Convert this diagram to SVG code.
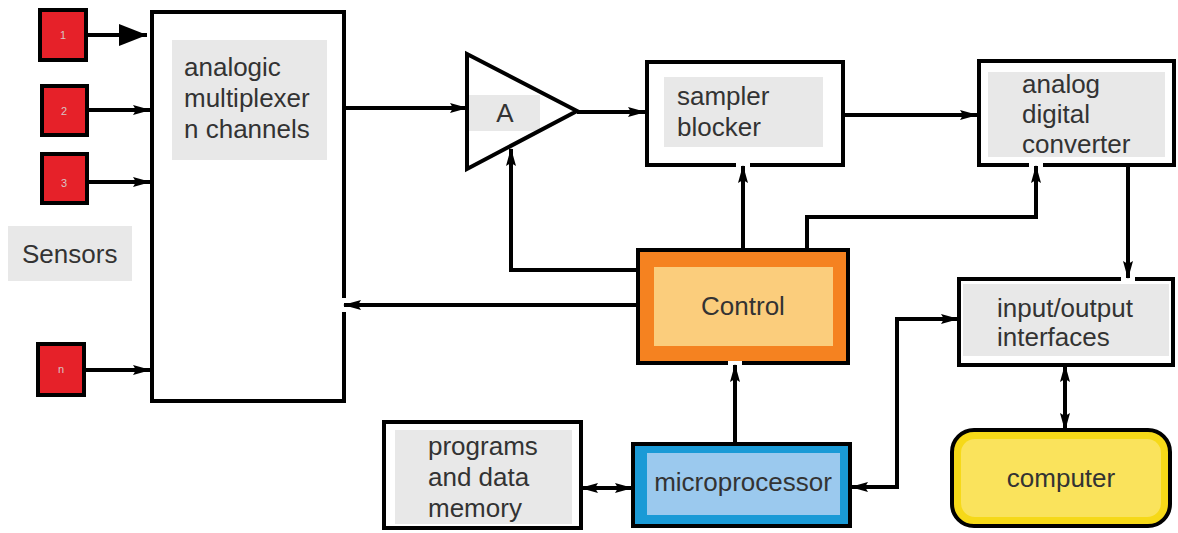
<svg xmlns="http://www.w3.org/2000/svg" width="1178" height="533" viewBox="0 0 1178 533">
<defs>
<style>
.box{fill:#fff;stroke:#000;stroke-width:4}
.gray{fill:#e8e8e8}
.sensor{fill:#e62129;stroke:#000;stroke-width:4}
.num{font-family:"Liberation Sans",Arial,sans-serif;font-size:11px;fill:#d6c4c4;text-anchor:middle}
.t{font-family:"Liberation Sans",Arial,sans-serif;font-size:26px;fill:#333}
.c{text-anchor:middle}
.ln{fill:none;stroke:#000;stroke-width:4}
.gap{fill:#fff}
</style>
<marker id="ah" viewBox="0 0 18 12" refX="17" refY="6" markerWidth="18" markerHeight="12" markerUnits="userSpaceOnUse" orient="auto">
<path d="M0,1 L18,6 L0,11 L3,6 z" fill="#000"/>
</marker>
<marker id="ahs" viewBox="0 0 18 12" refX="1" refY="6" markerWidth="18" markerHeight="12" markerUnits="userSpaceOnUse" orient="auto">
<path d="M18,1 L0,6 L18,11 L15,6 z" fill="#000"/>
</marker>
<marker id="big" viewBox="0 0 28 22" refX="28" refY="11" markerWidth="28" markerHeight="22" markerUnits="userSpaceOnUse" orient="auto">
<path d="M0,0 L28,11 L0,22 z" fill="#000"/>
</marker>
</defs>
<rect width="1178" height="533" fill="#fff"/>

<g id="sensor1"><rect class="sensor" x="40" y="10" width="46" height="50"/><text class="num" x="63" y="39">1</text></g>
<g id="sensor2"><rect class="sensor" x="42" y="86" width="45" height="49"/><text class="num" x="64" y="115">2</text></g>
<g id="sensor3"><rect class="sensor" x="42" y="154" width="45" height="49"/><text class="num" x="64" y="187">3</text></g>
<g id="sensorn"><rect class="sensor" x="38" y="344" width="46" height="51"/><text class="num" x="61" y="373">n</text></g>
<g id="sensors-label"><rect class="gray" x="8" y="226" width="124" height="55"/><text class="t" x="22" y="263">Sensors</text></g>

<g id="multiplexer">
<rect class="box" x="152" y="12" width="192" height="389"/>
<rect class="gray" x="172" y="40" width="155" height="120"/>
<text class="t" x="184" y="76">analogic</text>
<text class="t" x="184" y="107">multiplexer</text>
<text class="t" x="184" y="138">n channels</text>
<rect class="gap" x="341" y="298" width="6" height="14"/>
</g>

<g id="amplifier">
<rect class="gray" x="468" y="95" width="72" height="36"/>
<path d="M467,54 L577,111 L467,169 Z" fill="none" stroke="#000" stroke-width="4" stroke-linejoin="miter"/>
<text class="t c" x="505" y="122">A</text>
</g>

<g id="sampler">
<rect class="box" x="647" y="62" width="196" height="103"/>
<rect class="gray" x="664" y="77" width="159" height="70"/>
<text class="t" x="677" y="105">sampler</text>
<text class="t" x="677" y="136">blocker</text>
<rect class="gap" x="736" y="162" width="14" height="6"/>
</g>

<g id="adc">
<rect class="box" x="979" y="61" width="195" height="104"/>
<rect class="gray" x="988" y="72" width="177" height="85"/>
<text class="t" x="1022" y="93">analog</text>
<text class="t" x="1022" y="123">digital</text>
<text class="t" x="1022" y="153">converter</text>
<rect class="gap" x="1029" y="162" width="14" height="6"/>
</g>

<g id="io">
<rect class="box" x="959" y="279" width="214" height="86"/>
<rect class="gray" x="963" y="284" width="206" height="72"/>
<text class="t" x="997" y="317">input/output</text>
<text class="t" x="997" y="346">interfaces</text>
<rect class="gap" x="1121" y="276" width="14" height="6"/>
</g>

<g id="control">
<rect x="638" y="250" width="210" height="113" fill="#f58220" stroke="#000" stroke-width="4"/>
<rect x="654" y="267" width="179" height="79" fill="#fbcd7c"/>
<text class="t c" x="743" y="315">Control</text>
<rect class="gap" x="728" y="361" width="14" height="6"/>
</g>

<g id="microprocessor">
<rect x="633" y="444" width="217" height="82" fill="#1a9ad6" stroke="#000" stroke-width="4"/>
<rect x="647" y="453" width="193" height="62" fill="#9bc9ee"/>
<text class="t c" x="743" y="491">microprocessor</text>
</g>

<g id="memory">
<rect class="box" x="384" y="422" width="197" height="106"/>
<rect class="gray" x="395" y="430" width="177" height="94"/>
<text class="t" x="428" y="455">programs</text>
<text class="t" x="428" y="486">and data</text>
<text class="t" x="428" y="517">memory</text>
</g>

<g id="computer">
<rect x="952" y="430" width="218" height="96" rx="22" ry="22" fill="#f6d918" stroke="#000" stroke-width="4"/>
<rect x="961" y="439" width="200" height="78" rx="14" ry="14" fill="#fae35c"/>
<text class="t c" x="1061" y="487">computer</text>
</g>

<g id="connectors">
<path class="ln" d="M86,35 H147" marker-end="url(#big)"/>
<path class="ln" d="M87,110 H150" marker-end="url(#ah)"/>
<path class="ln" d="M87,182 H150" marker-end="url(#ah)"/>
<path class="ln" d="M84,370 H150" marker-end="url(#ah)"/>
<path class="ln" d="M344,108 H467" marker-end="url(#ah)"/>
<path class="ln" d="M577,112 H645" marker-end="url(#ah)"/>
<path class="ln" d="M843,115 H977" marker-end="url(#ah)"/>
<path class="ln" d="M1128,165 V278" marker-end="url(#ah)"/>
<path class="ln" d="M743,250 V166" marker-end="url(#ah)"/>
<path class="ln" d="M807,250 V217 H1036 V166" marker-end="url(#ah)"/>
<path class="ln" d="M638,270 H511 V149" marker-end="url(#ah)"/>
<path class="ln" d="M638,305 H344" marker-end="url(#ah)"/>
<path class="ln" d="M735,444 V365" marker-end="url(#ah)"/>
<path class="ln" d="M581,488 H632" marker-start="url(#ahs)" marker-end="url(#ah)"/>
<path class="ln" d="M851,487 H897 V319 H958" marker-start="url(#ahs)" marker-end="url(#ah)"/>
<path class="ln" d="M1065,365 V430" marker-start="url(#ahs)" marker-end="url(#ah)"/>
</g>
</svg>
